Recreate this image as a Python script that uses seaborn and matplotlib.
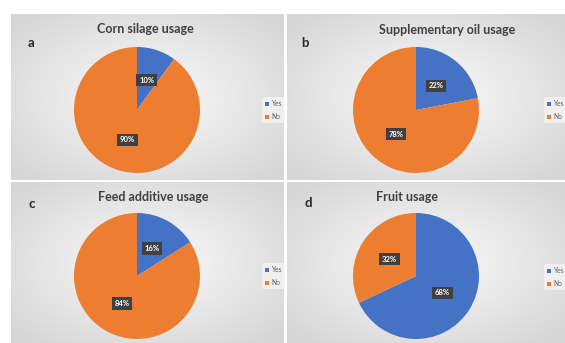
import matplotlib
matplotlib.use("Agg")
import matplotlib.pyplot as plt
import numpy as np
import seaborn as sns

W, H = 565, 343

# data
panel_letters = ["a", "b", "c", "d"]
titles = ["Corn silage usage", "Supplementary oil usage", "Feed additive usage", "Fruit usage"]
categories = ["Yes", "No"]
yes_pct = [10, 22, 16, 68]
no_pct = [90, 78, 84, 32]

sns.set_theme(style="white")
plt.rcParams["font.family"] = ["Lato", "DejaVu Sans"]
colors = sns.color_palette(["#4472C4", "#ED7D31"])

fig = plt.figure(figsize=(W / 100, H / 100), dpi=100)
fig.patch.set_facecolor("white")

# panel boxes in pixels: left, top, right, bottom
panels = [(11, 14, 284, 180), (287, 14, 565, 180), (11, 182, 284, 343), (287, 182, 565, 343)]


def fx(x):
    return x / W


def fy(y):
    return 1 - y / H


# radial gray background
gy, gx = np.mgrid[-1:1:200j, -1:1:200j]
grad = np.clip(np.sqrt(gx ** 2 + gy ** 2) / 1.3, 0, 1)
bg_cmap = matplotlib.colors.LinearSegmentedColormap.from_list("g", ["#fbfbfb", "#d6d6d6"])

for i, (l, t, r, b) in enumerate(panels):
    bg = fig.add_axes([fx(l), fy(b), fx(r - l), (b - t) / H])
    bg.imshow(grad, cmap=bg_cmap, aspect="auto", extent=[0, 1, 0, 1], vmin=0, vmax=1)
    bg.set_xlim(0, 1)
    bg.set_ylim(0, 1)
    bg.set_axis_off()

    cx = l + 126 if i % 2 == 0 else l + 129
    cy = t + 96 if i < 2 else t + 94
    rad = 63
    ax = fig.add_axes([fx(cx - rad), fy(cy + rad), 2 * rad / W, 2 * rad / H])
    wedges, texts, autotexts = ax.pie(
        [yes_pct[i], no_pct[i]],
        colors=colors,
        startangle=90,
        counterclock=False,
        autopct="%d%%",
        pctdistance=0.5,
        wedgeprops=dict(linewidth=0),
        textprops=dict(color="white", fontsize=5.5, fontweight="bold"),
    )
    for at in autotexts:
        at.set_bbox(dict(boxstyle="square,pad=0.35", facecolor="#404040", edgecolor="none"))
    ax.set_xlim(-1, 1)
    ax.set_ylim(-1, 1)

    tx = [145, 447, 153, 407][i]
    ty = [29, 30, 197, 197][i]
    fig.text(fx(tx), fy(ty), titles[i], ha="center", va="center",
             fontsize=9, fontweight="bold", color="#404040")
    lx = [31, 305, 32, 308][i]
    ly = [43, 43, 204, 203][i]
    fig.text(fx(lx), fy(ly), panel_letters[i], ha="center", va="center",
             fontsize=9.5, fontweight="bold", color="#262626")

    legx = [259, 541, 259, 541][i]
    legy = [110, 110, 276, 277][i]
    ax.legend(wedges, categories, loc="center left",
              bbox_to_anchor=(fx(legx), fy(legy)), bbox_transform=fig.transFigure,
              fontsize=4.8, frameon=True, facecolor="#f4f4f4", edgecolor="none",
              handlelength=0.6, handleheight=0.6, handletextpad=0.4,
              borderpad=0.4, labelspacing=0.9, labelcolor="#595959", framealpha=0.8)

fig.savefig("out.png", dpi=100)
